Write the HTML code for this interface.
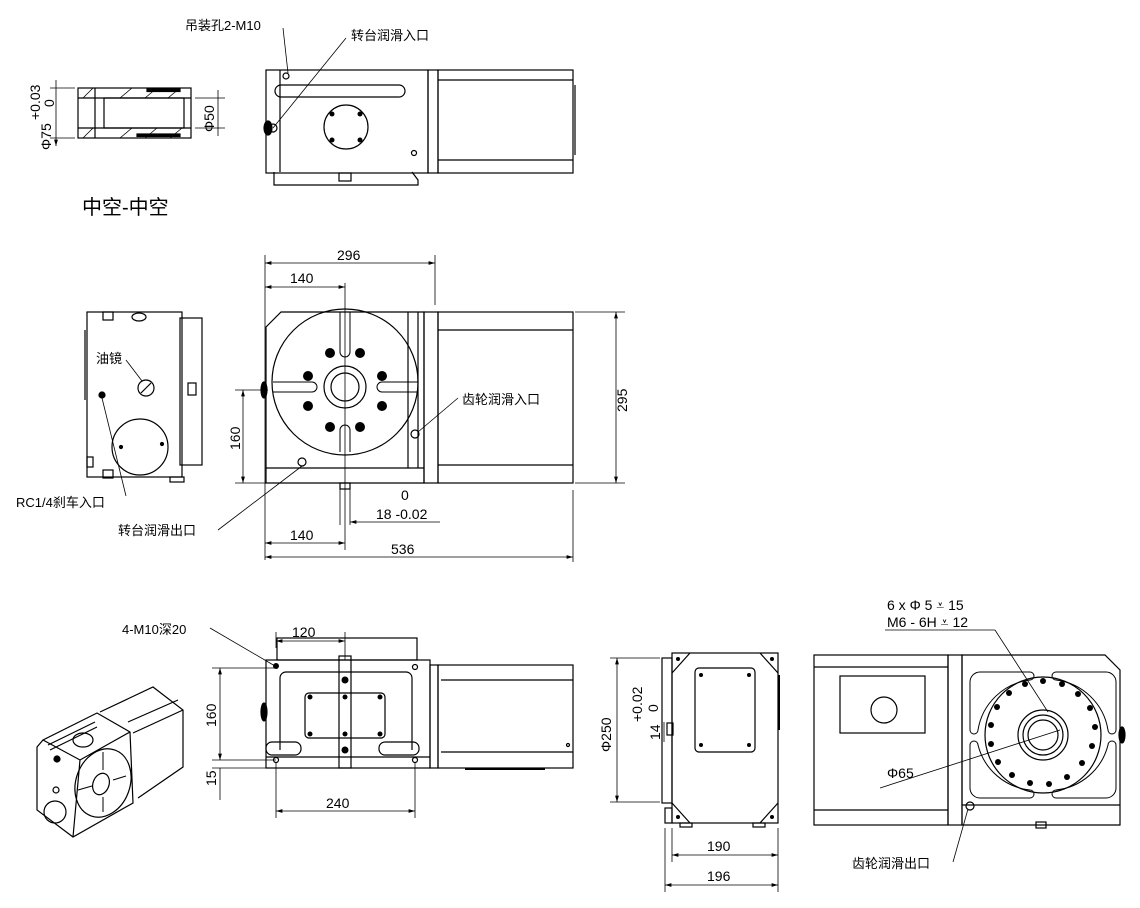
<!DOCTYPE html>
<html><head><meta charset="utf-8"><style>
html,body{margin:0;padding:0;background:#fff}
svg{display:block}
text{font-family:"Liberation Sans","Noto Sans CJK SC",sans-serif;fill:#000}
.d{font-family:"DejaVu Sans","Liberation Sans",sans-serif;font-size:14px}
</style></head><body>
<svg width="1140" height="908" viewBox="0 0 1140 908" xmlns="http://www.w3.org/2000/svg">
<defs>
<marker id="a" viewBox="0 0 10 10" refX="10" refY="5" markerWidth="8" markerHeight="8" orient="auto-start-reverse"><path d="M0,2 L10,5 L0,8z" fill="#000"/></marker>
</defs>
<g fill="none" stroke="#000" stroke-width="1.2">

<!-- hollow section -->
<rect x="78" y="88" width="113" height="50"/>
<line x1="95" y1="88" x2="95" y2="138"/>
<rect x="104" y="98" width="80" height="30"/>
<line x1="78" y1="98" x2="191" y2="98"/><line x1="78" y1="128" x2="191" y2="128"/>
<path d="M120,98 L132,88 M145,98 L157,88 M168,98 L180,88 M83,98 L93,88 M120,138 L132,128 M145,138 L157,128 M170,138 L182,128 M83,138 L93,128" stroke-width="0.8"/>
<rect x="147" y="89" width="33" height="2.5" fill="#000"/><rect x="137" y="134" width="43" height="2.5" fill="#000"/>
<line x1="50" y1="88" x2="75" y2="88" stroke-width="0.8"/><line x1="50" y1="138" x2="75" y2="138" stroke-width="0.8"/>
<line x1="56" y1="80" x2="56" y2="146" stroke-width="0.8" marker-end="url(#a)"/>
<line x1="195" y1="98" x2="225" y2="98" stroke-width="0.8"/><line x1="195" y1="128" x2="225" y2="128" stroke-width="0.8"/>
<line x1="218" y1="90" x2="218" y2="136" stroke-width="0.8"/>

<!-- top view -->
<rect x="266" y="70" width="162" height="103"/>
<line x1="280" y1="70" x2="280" y2="172"/>
<rect x="275" y="85" width="130" height="12" rx="6"/>
<circle cx="286" cy="76" r="3"/>
<circle cx="346" cy="127" r="22"/>
<g fill="#000" stroke="none"><circle cx="332" cy="114" r="2.5"/><circle cx="360" cy="114" r="2.5"/><circle cx="332" cy="140" r="2.5"/><circle cx="360" cy="140" r="2.5"/></g>
<circle cx="414" cy="153" r="2.5"/>
<ellipse cx="268" cy="128" rx="4" ry="7" fill="#000"/><circle cx="273" cy="128" r="4"/>
<path d="M274,172 V185 H418 V180 L412,172"/>
<rect x="339" y="173" width="12" height="8"/>
<rect x="428" y="70" width="10" height="103"/>
<rect x="438" y="70" width="135" height="103"/>
<line x1="438" y1="80" x2="573" y2="80"/>
<line x1="438" y1="160" x2="573" y2="160"/>
<line x1="575" y1="85" x2="575" y2="155"/>

<!-- front view -->
<path d="M266,327 L281,312 H424 V483 H266z"/>
<circle cx="345" cy="382" r="73"/>
<circle cx="345" cy="387" r="21"/><circle cx="345" cy="387" r="14"/>
<path d="M340,312 V352 a5,5 0 0 0 10,0 V312 M340,452 V430 a5,5 0 0 1 10,0 V452 M273,382 H312 a5,5 0 0 1 0,10 H273 M418,382 H382 a5,5 0 0 0 0,10 H418" stroke-width="1"/>
<g fill="#000" stroke="none">
<circle cx="330" cy="353" r="5"/><circle cx="360" cy="353" r="5"/><circle cx="308" cy="376" r="5"/><circle cx="382" cy="376" r="5"/>
<circle cx="308" cy="406" r="5"/><circle cx="382" cy="406" r="5"/><circle cx="330" cy="427" r="5"/><circle cx="360" cy="427" r="5"/>
</g>
<line x1="266" y1="468" x2="424" y2="468"/>
<line x1="408" y1="312" x2="408" y2="468"/><line x1="418" y1="312" x2="418" y2="468"/>
<circle cx="302" cy="462" r="4"/><circle cx="415" cy="434" r="4"/>
<rect x="424" y="312" width="14" height="171"/>
<rect x="438" y="312" width="135" height="171"/>
<line x1="438" y1="330" x2="573" y2="330"/><line x1="438" y1="465" x2="573" y2="465"/>
<ellipse cx="264" cy="390" rx="3" ry="8" fill="#000"/>
<rect x="340" y="483" width="10" height="6"/>
<line x1="345" y1="283" x2="345" y2="550" stroke-width="0.8"/>
<line x1="340" y1="489" x2="340" y2="525" stroke-width="0.8"/><line x1="350" y1="489" x2="350" y2="525" stroke-width="0.8"/>
<g stroke-width="0.8">
<line x1="265" y1="255" x2="265" y2="560"/><line x1="435" y1="255" x2="435" y2="305"/>
<line x1="265" y1="263" x2="435" y2="263" marker-start="url(#a)" marker-end="url(#a)"/>
<line x1="265" y1="287" x2="345" y2="287" marker-start="url(#a)" marker-end="url(#a)"/>
<line x1="575" y1="312" x2="625" y2="312"/><line x1="575" y1="483" x2="625" y2="483"/>
<line x1="616" y1="312" x2="616" y2="483" marker-start="url(#a)" marker-end="url(#a)"/>
<line x1="235" y1="390" x2="268" y2="390"/><line x1="235" y1="483" x2="266" y2="483"/>
<line x1="243" y1="390" x2="243" y2="483" marker-start="url(#a)" marker-end="url(#a)"/>
<line x1="350" y1="522" x2="440" y2="522" marker-start="url(#a)"/>
<line x1="265" y1="543" x2="345" y2="543" marker-start="url(#a)" marker-end="url(#a)"/>
<line x1="573" y1="490" x2="573" y2="562"/>
<line x1="265" y1="557" x2="573" y2="557" marker-start="url(#a)" marker-end="url(#a)"/>
<line x1="418" y1="432" x2="458" y2="398"/>
<line x1="302" y1="466" x2="218" y2="530"/>
</g>

<!-- side left view -->
<rect x="87" y="312" width="95" height="165"/>
<rect x="180" y="318" width="22" height="147"/>
<rect x="188" y="383" width="8" height="12"/>
<rect x="103" y="312" width="10" height="8"/><rect x="103" y="470" width="10" height="8"/>
<rect x="87" y="457" width="6" height="10"/>
<ellipse cx="139" cy="317" rx="7" ry="4"/>
<circle cx="146" cy="388" r="8"/>
<line x1="141" y1="393" x2="151" y2="383"/>
<circle cx="140" cy="447" r="28"/>
<circle cx="121" cy="447" r="1.5" fill="#000"/><circle cx="162" cy="444" r="1.5" fill="#000"/>
<circle cx="102" cy="395" r="3" fill="#000"/>
<rect x="170" y="477" width="14" height="5"/>
<line x1="85" y1="330" x2="85" y2="400"/>
<g stroke-width="0.8"><line x1="126" y1="360" x2="142" y2="381"/><line x1="102" y1="398" x2="126" y2="496"/></g>

<!-- bottom view -->
<rect x="266" y="660" width="164" height="108"/>
<rect x="277" y="638" width="140" height="22"/>
<path d="M280,750 V678 a6,6 0 0 1 6,-6 H406 a6,6 0 0 1 6,6 V750" />
<rect x="305" y="693" width="80" height="45" rx="4"/>
<rect x="339" y="656" width="12" height="112"/>
<line x1="266" y1="757" x2="430" y2="757"/>
<rect x="266" y="742" width="35" height="13" rx="6"/><rect x="379" y="742" width="40" height="13" rx="6"/>
<g fill="#000" stroke="none">
<circle cx="276" cy="666" r="3"/><circle cx="345" cy="680" r="3.5"/><circle cx="345" cy="750" r="3.5"/>
<circle cx="310" cy="697" r="2.5"/><circle cx="345" cy="697" r="2.5"/><circle cx="380" cy="697" r="2.5"/>
<circle cx="310" cy="734" r="2.5"/><circle cx="345" cy="734" r="2.5"/><circle cx="380" cy="734" r="2.5"/>
</g>
<circle cx="415" cy="667" r="2.5"/><circle cx="276" cy="760" r="2.5"/><circle cx="415" cy="760" r="2.5"/>
<ellipse cx="264" cy="712" rx="3" ry="9" fill="#000"/>
<rect x="430" y="665" width="8" height="103"/>
<rect x="438" y="665" width="135" height="103"/>
<line x1="441" y1="680" x2="573" y2="680"/><line x1="441" y1="752" x2="573" y2="752"/>
<circle cx="568" cy="745" r="1.5"/>
<line x1="465" y1="769" x2="545" y2="769" stroke-width="2"/>
<g stroke-width="0.8">
<line x1="276" y1="632" x2="276" y2="648"/><line x1="345" y1="632" x2="345" y2="660"/>
<line x1="276" y1="641" x2="345" y2="641" marker-start="url(#a)" marker-end="url(#a)"/>
<line x1="212" y1="668" x2="276" y2="668"/><line x1="212" y1="760" x2="276" y2="760"/><line x1="212" y1="768" x2="266" y2="768"/>
<line x1="220" y1="668" x2="220" y2="760" marker-start="url(#a)" marker-end="url(#a)"/>
<line x1="220" y1="768" x2="220" y2="800"/>
<line x1="276" y1="762" x2="276" y2="818"/><line x1="415" y1="762" x2="415" y2="818"/>
<line x1="276" y1="811" x2="415" y2="811" marker-start="url(#a)" marker-end="url(#a)"/>
<line x1="210" y1="628" x2="275" y2="666"/>
</g>

<!-- end view -->
<rect x="672" y="653" width="106" height="170"/>
<rect x="662" y="658" width="10" height="145"/><rect x="665" y="808" width="7" height="15"/>
<rect x="695" y="668" width="60" height="84" rx="4"/>
<path d="M672,673 L690,653 M760,653 L778,673 M672,803 L690,823 M760,823 L778,803"/>
<rect x="667" y="723" width="6" height="12"/>
<rect x="680" y="823" width="12" height="4"/><rect x="753" y="823" width="12" height="4"/>
<line x1="779" y1="675" x2="779" y2="730" stroke-width="2"/>
<g fill="#000" stroke="none"><circle cx="678" cy="659" r="2"/><circle cx="772" cy="659" r="2"/><circle cx="678" cy="817" r="2"/><circle cx="772" cy="817" r="2"/>
<circle cx="701" cy="675" r="2"/><circle cx="749" cy="675" r="2"/><circle cx="701" cy="745" r="2"/><circle cx="749" cy="745" r="2"/></g>
<g stroke-width="0.8">
<line x1="610" y1="658" x2="660" y2="658"/><line x1="610" y1="802" x2="660" y2="802"/>
<line x1="617" y1="658" x2="617" y2="802" marker-start="url(#a)" marker-end="url(#a)"/>
<line x1="664" y1="722" x2="664" y2="742"/>
<line x1="665" y1="828" x2="665" y2="892"/><line x1="778" y1="828" x2="778" y2="892"/><line x1="672" y1="828" x2="672" y2="862"/>
<line x1="672" y1="855" x2="778" y2="855" marker-start="url(#a)" marker-end="url(#a)"/>
<line x1="665" y1="885" x2="778" y2="885" marker-start="url(#a)" marker-end="url(#a)"/>
</g>

<!-- right view -->
<rect x="814" y="655" width="134" height="170"/>
<path d="M962,655 H1105 L1120,670 V825 H962z"/>
<rect x="948" y="655" width="14" height="170"/>
<path d="M814,667 H948 M814,810 H948" />
<rect x="840" y="676" width="85" height="57"/>
<circle cx="884" cy="710" r="13"/>
<line x1="962" y1="805" x2="1120" y2="805"/>
<rect x="1036" y="822" width="10" height="6"/>
<circle cx="1043" cy="735" r="58"/>
<circle cx="1043" cy="735" r="25"/><circle cx="1043" cy="735" r="20"/><circle cx="1043" cy="735" r="15"/>
<path d="M970,730 V682 a10,10 0 0 1 10,-10 H1030 a4,4 0 0 1 0,8 A60,60 0 0 0 978,730 a4,4 0 0 1 -8,0z M1116,730 V682 a10,10 0 0 0 -10,-10 H1056 a4,4 0 0 0 0,8 A60,60 0 0 1 1108,730 a4,4 0 0 0 8,0z M970,745 V788 a10,10 0 0 0 10,10 H1030 a4,4 0 0 0 0,-8 A60,60 0 0 1 978,745 a4,4 0 0 0 -8,0z M1116,745 V788 a10,10 0 0 1 -10,10 H1056 a4,4 0 0 1 0,-8 A60,60 0 0 0 1108,745 a4,4 0 0 1 8,0z" stroke-width="1"/>
<g fill="#000" stroke="none">
<circle cx="1043" cy="681" r="3"/><circle cx="1062" cy="684" r="3"/><circle cx="1078" cy="694" r="3"/><circle cx="1090" cy="708" r="3"/><circle cx="1095" cy="727" r="3"/><circle cx="1092" cy="746" r="3"/><circle cx="1082" cy="763" r="3"/><circle cx="1067" cy="777" r="3"/><circle cx="1049" cy="784" r="3"/><circle cx="1030" cy="783" r="3"/><circle cx="1012" cy="775" r="3"/><circle cx="998" cy="762" r="3"/><circle cx="991" cy="744" r="3"/><circle cx="991" cy="725" r="3"/><circle cx="997" cy="707" r="3"/><circle cx="1009" cy="693" r="3"/><circle cx="1025" cy="684" r="3"/>
</g>
<circle cx="970" cy="806" r="4"/>
<ellipse cx="1122" cy="735" rx="3" ry="8" fill="#000"/>
<g stroke-width="0.8">
<line x1="880" y1="788" x2="1060" y2="730"/>
<line x1="885" y1="630" x2="995" y2="630"/><line x1="995" y1="630" x2="1048" y2="712"/>
<line x1="968" y1="809" x2="953" y2="862"/>
</g>

<!-- isometric -->
<path d="M37,747 L43,740 L97,713 L130,732 L133,803 L73,837 L37,810z"/>
<path d="M43,740 L80,760 L130,732 M80,760 L73,837"/>
<path d="M100,712 L153,687 L183,710 L183,767 L138,798"/>
<path d="M128,722 L178,700 M183,710 L133,733"/>
<path d="M48,745 L95,722 M50,750 L97,727"/>
<ellipse cx="103" cy="783" rx="27" ry="35" transform="rotate(20 103 783)"/>
<ellipse cx="101" cy="784" rx="8" ry="11" transform="rotate(20 101 784)"/>
<path d="M103,752 V770 M103,797 V812 M78,790 L92,786 M113,780 L126,776" stroke-width="1"/>
<ellipse cx="83" cy="740" rx="10" ry="7"/>
<circle cx="55" cy="812" r="11"/><circle cx="56" cy="790" r="3"/>
<circle cx="57" cy="759" r="3" fill="#000"/>
</g>

<!-- text -->
<g font-size="13">
<text x="185" y="30">吊装孔2-M10</text>
<text x="351" y="40">转台润滑入口</text>
<text x="462" y="404">齿轮润滑入口</text>
<text x="96" y="363">油镜</text>
<text x="16" y="507">RC1/4刹车入口</text>
<text x="118" y="535">转台润滑出口</text>
<text x="122" y="634">4-M10深20</text>
<text x="852" y="868">齿轮润滑出口</text>
</g>
<g fill="none" stroke="#000" stroke-width="0.8"><line x1="283" y1="28" x2="288" y2="73"/><line x1="346" y1="38" x2="273" y2="128"/></g>
<text x="82" y="214" font-size="20" font-family="'Noto Serif CJK SC',serif">中空-中空</text>
<g class="d">
<text x="337" y="260">296</text>
<text x="290" y="283">140</text>
<text x="290" y="540">140</text>
<text x="391" y="554">536</text>
<text x="401" y="500">0</text>
<text x="376" y="519">18 -0.02</text>
<text x="627" y="412" transform="rotate(-90 627 412)">295</text>
<text x="240" y="450" transform="rotate(-90 240 450)">160</text>
<text x="292" y="637">120</text>
<text x="326" y="808">240</text>
<text x="216" y="727" transform="rotate(-90 216 727)">160</text>
<text x="216" y="786" transform="rotate(-90 216 786)">15</text>
<text x="707" y="851">190</text>
<text x="707" y="881">196</text>
<text x="611" y="752" transform="rotate(-90 611 752)">Φ250</text>
<text x="642" y="722" transform="rotate(-90 642 722)">+0.02</text>
<text x="658" y="712" transform="rotate(-90 658 712)">0</text>
<text x="660" y="740" transform="rotate(-90 660 740)">14</text>
<text x="51" y="150" transform="rotate(-90 51 150)">Φ75</text>
<text x="40" y="120" transform="rotate(-90 40 120)">+0.03</text>
<text x="54" y="107" transform="rotate(-90 54 107)">0</text>
<text x="214" y="132" transform="rotate(-90 214 132)">Φ50</text>
<text x="887" y="610">6 x Φ 5 ⩡ 15</text>
<text x="887" y="627">M6 - 6H ⩡ 12</text>
<text x="887" y="778">Φ65</text>
</g>
</svg>
</body></html>
